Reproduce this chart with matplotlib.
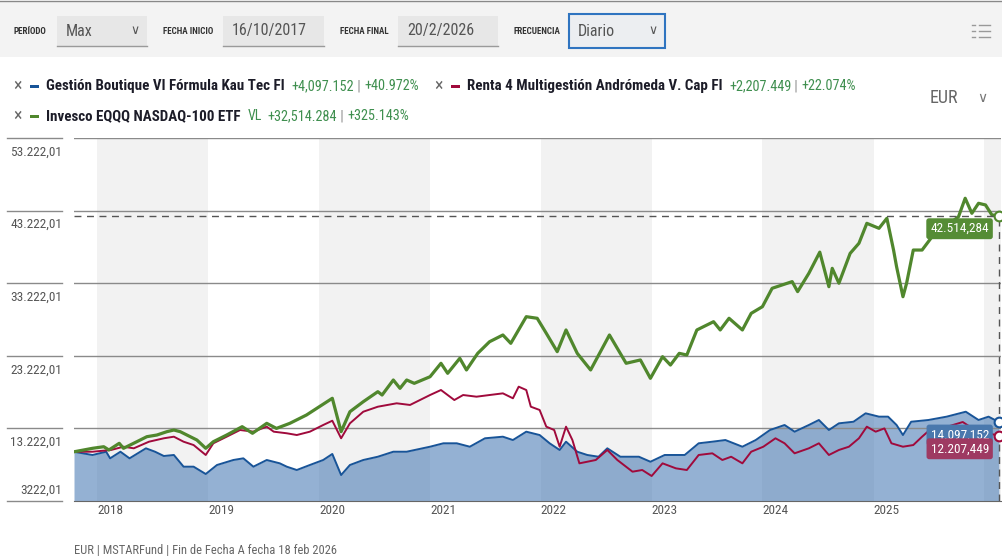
import matplotlib
matplotlib.use('Agg')
import matplotlib.pyplot as plt
from matplotlib.patches import Rectangle
from matplotlib import font_manager
import pandas as pd

# growth of 10.000 EUR
blue_dates = [
    '2017-10-16', '2017-12-16', '2018-01-30', '2018-02-12', '2018-03-18', '2018-04-17',
    '2018-06-10', '2018-07-10', '2018-08-08', '2018-09-10', '2018-10-12', '2018-11-14',
    '2018-12-24', '2019-01-30', '2019-03-25', '2019-04-27', '2019-05-30', '2019-07-13',
    '2019-08-25', '2019-09-17', '2019-10-20', '2019-12-02', '2020-01-15', '2020-02-14',
    '2020-03-14', '2020-04-12', '2020-05-26', '2020-07-13', '2020-09-02', '2020-10-16',
    '2021-01-01', '2021-02-14', '2021-03-30', '2021-05-12', '2021-07-01', '2021-08-29',
    '2021-10-01', '2021-11-14', '2021-12-28', '2022-01-30', '2022-03-04', '2022-03-25',
    '2022-05-01', '2022-06-03', '2022-07-10', '2022-08-08', '2022-09-20', '2022-11-20',
    '2022-12-28', '2023-02-13', '2023-04-20', '2023-06-05', '2023-07-20', '2023-09-01',
    '2023-10-27', '2023-12-10', '2024-01-26', '2024-03-14', '2024-04-16', '2024-06-02',
    '2024-07-05', '2024-08-07', '2024-09-09', '2024-10-27', '2024-12-06', '2025-01-19',
    '2025-02-18', '2025-03-18', '2025-04-08', '2025-05-05', '2025-07-01', '2025-08-30',
    '2025-11-01', '2025-12-13', '2026-01-15', '2026-02-18',
]
blue_values = [
    10000, 9560, 10010, 9100, 10010, 9100,
    10480, 10010, 9420, 9560, 7950, 7950,
    6940, 8180, 8870, 9100, 7950, 8870,
    8410, 7950, 7490, 8180, 8870, 9700,
    6800, 8180, 8870, 9320, 10010, 10010,
    10700, 11170, 11170, 10700, 11860, 12080,
    11620, 12770, 12310, 11170, 10250, 11390,
    10010, 9560, 9320, 10480, 9320, 9320,
    8630, 9560, 9560, 11170, 11390, 11620,
    10700, 11620, 13000, 13690, 12770, 13690,
    14380, 13000, 13920, 14140, 15300, 14840,
    14840, 13690, 12310, 14140, 14380, 14840,
    15520, 14380, 14840, 14097.152,
]

red_dates = [
    '2017-10-16', '2017-12-16', '2018-02-15', '2018-03-28', '2018-05-01', '2018-06-20',
    '2018-08-08', '2018-09-10', '2018-10-12', '2018-11-14', '2018-12-24', '2019-01-18',
    '2019-03-03', '2019-04-16', '2019-05-30', '2019-07-13', '2019-08-05', '2019-09-17',
    '2019-10-20', '2019-12-02', '2020-01-15', '2020-02-14', '2020-03-14', '2020-04-12',
    '2020-05-26', '2020-07-13', '2020-09-13', '2020-10-27', '2021-01-01', '2021-02-06',
    '2021-03-22', '2021-04-20', '2021-06-03', '2021-07-16', '2021-08-29', '2021-10-01',
    '2021-10-20', '2021-11-14', '2021-11-29', '2021-12-28', '2022-01-19', '2022-02-14',
    '2022-03-04', '2022-03-25', '2022-04-15', '2022-05-08', '2022-06-03', '2022-07-01',
    '2022-08-08', '2022-09-10', '2022-10-30', '2022-12-01', '2023-01-01', '2023-02-06',
    '2023-03-22', '2023-04-27', '2023-06-05', '2023-07-20', '2023-08-22', '2023-09-20',
    '2023-10-27', '2023-11-25', '2024-01-04', '2024-02-13', '2024-03-14', '2024-04-16',
    '2024-06-02', '2024-07-05', '2024-08-07', '2024-09-09', '2024-10-12', '2024-11-14',
    '2024-12-10', '2025-01-08', '2025-02-06', '2025-03-01', '2025-04-08', '2025-05-12',
    '2025-06-10', '2025-07-05', '2025-08-20', '2025-10-22', '2025-12-01', '2026-02-18',
]
red_values = [
    10000, 10010, 10250, 10700, 10480, 11390,
    11860, 12080, 11390, 10930, 9560, 11170,
    12080, 13000, 12770, 13460, 12770, 12550,
    12310, 12770, 13690, 14280, 11860, 13920,
    15520, 16210, 16680, 16450, 17820, 18510,
    17130, 17820, 17590, 17820, 18050, 17370,
    18970, 18510, 16210, 15760, 13460, 13000,
    10700, 13460, 11620, 8410, 8630, 8870,
    10250, 8870, 7260, 7490, 6665, 8410,
    7720, 7490, 9560, 9790, 8870, 9320,
    8410, 10010, 10700, 11860, 11170, 9790,
    10480, 11170, 9560, 10250, 10700, 11860,
    13460, 12770, 13222, 11170, 10700, 10930,
    12080, 13000, 13300, 14100, 13000, 12207.449,
]

green_dates = [
    '2017-10-16', '2017-12-16', '2018-01-22', '2018-02-08', '2018-03-14', '2018-03-28',
    '2018-05-11', '2018-06-13', '2018-07-16', '2018-08-18', '2018-09-10', '2018-10-01',
    '2018-11-03', '2018-11-25', '2018-12-24', '2019-01-18', '2019-03-03', '2019-04-23',
    '2019-05-27', '2019-07-13', '2019-08-14', '2019-09-27', '2019-11-21', '2020-01-11',
    '2020-02-14', '2020-03-14', '2020-04-12', '2020-05-26', '2020-07-13', '2020-07-27',
    '2020-09-02', '2020-09-24', '2020-10-16', '2020-11-10', '2021-01-01', '2021-02-06',
    '2021-02-28', '2021-04-09', '2021-05-01', '2021-06-07', '2021-07-16', '2021-08-29',
    '2021-09-24', '2021-11-14', '2021-12-20', '2022-01-19', '2022-02-24', '2022-03-25',
    '2022-05-01', '2022-06-14', '2022-08-15', '2022-10-09', '2022-11-25', '2022-12-28',
    '2023-02-06', '2023-03-04', '2023-04-02', '2023-04-27', '2023-05-30', '2023-07-24',
    '2023-08-15', '2023-09-13', '2023-10-27', '2023-11-25', '2024-01-01', '2024-02-02',
    '2024-04-08', '2024-04-26', '2024-06-02', '2024-07-08', '2024-08-07', '2024-08-18',
    '2024-09-09', '2024-10-16', '2024-11-14', '2024-12-10', '2025-01-19', '2025-02-14',
    '2025-03-08', '2025-03-18', '2025-04-08', '2025-04-20', '2025-05-12', '2025-06-10',
    '2025-07-13', '2025-10-08', '2025-10-30', '2025-11-21', '2025-12-13', '2026-01-05',
    '2026-01-26', '2026-02-18',
]
green_values = [
    10000, 10480, 10700, 10250, 11170, 10480,
    11390, 12080, 12310, 12770, 13000, 12770,
    12080, 11620, 10480, 11390, 12310, 13460,
    12550, 13920, 13222, 13920, 15070, 16450,
    17370, 12770, 15520, 16900, 18280, 17820,
    19890, 18740, 19890, 19430, 20340, 22190,
    20810, 22880, 21270, 23560, 25160, 26090,
    24940, 28610, 28390, 26320, 23790, 26780,
    23560, 21270, 26090, 22190, 22650, 20120,
    23100, 21950, 23560, 23330, 26780, 27920,
    26780, 28390, 26780, 29070, 29990, 32520,
    33440, 32060, 34590, 37500, 32740, 35270,
    33220, 37330, 38720, 41470, 40780, 42160,
    37790, 35490, 31360, 33220, 37790, 37790,
    39630, 42380, 44920, 42850, 44230, 44000,
    42620, 42514.284,
]

series_names = ['Gestión Boutique VI Fórmula Kau Tec FI',
                'Renta 4 Multigestión Andrómeda V. Cap FI',
                'Invesco EQQQ NASDAQ-100 ETF']
y_ticks = [3222.01, 13222.01, 23222.01, 33222.01, 43222.01, 53222.01]
year_ticks = [2018, 2019, 2020, 2021, 2022, 2023, 2024, 2025]
grey_years = [2018, 2020, 2022, 2024, 2026]

BLUE = '#185498'
RED = '#a00a3c'
GREEN = '#50872d'
TXT_GREEN = '#3f8f4f'

names = {f.name for f in font_manager.fontManager.ttflist}
COND = next((n for n in ['Roboto Condensed', 'Liberation Sans Narrow',
                         'Open Sans Condensed', 'DejaVu Sans']
             if n in names), 'DejaVu Sans')
plt.rcParams['font.family'] = [COND, 'DejaVu Sans']
if COND == 'DejaVu Sans':
    plt.rcParams['font.stretch'] = 'condensed'


def eu(v):
    s = f'{v:,.3f}'
    return s.replace(',', 'X').replace('.', ',').replace('X', '.')


def tick_fmt(v):
    s = f'{v:,.2f}' if v >= 10000 else f'{v:.2f}'
    return s.replace(',', 'X').replace('.', ',').replace('X', '.')


W, H = 1002, 556
fig = plt.figure(figsize=(W / 100, H / 100), dpi=100)
bg = fig.add_axes([0, 0, 1, 1])
bg.set_xlim(0, W)
bg.set_ylim(H, 0)
bg.axis('off')

start = pd.Timestamp('2017-10-16')
ax = fig.add_axes([74 / W, 1 - 501 / H, 927 / W, 363 / H])
ax.set_xlim(start, pd.Timestamp('2026-02-25'))
ax.set_ylim(y_ticks[0], y_ticks[-1])
for s in ['top', 'left', 'right']:
    ax.spines[s].set_visible(False)
ax.spines['bottom'].set_color('#666666')
ax.tick_params(length=0, labelbottom=False, labelleft=False)

for yr in grey_years:
    ax.axvspan(pd.Timestamp(f'{yr}-01-01'), pd.Timestamp(f'{yr + 1}-01-01'),
               color='#f2f2f2', lw=0, zorder=0)

for v in y_ticks:
    if v != y_ticks[0]:
        ax.axhline(v, color='#8a8a8a', lw=1, zorder=2)
    ax.plot([-67 / 927, -12 / 927], [v, v], transform=ax.get_yaxis_transform(),
            color='#8a8a8a', lw=1, clip_on=False)
    dy = 11 if v == y_ticks[0] else -14
    ax.annotate(tick_fmt(v), xy=(0, v), xycoords=('axes fraction', 'data'),
                xytext=(-12, dy), textcoords='offset pixels', ha='right', va='center',
                fontsize=9.5, color='#555555')

for yr in year_ticks:
    ax.annotate(str(yr), xy=(pd.Timestamp(f'{yr}-01-01'), 0),
                xycoords=('data', 'axes fraction'), xytext=(0, -10),
                textcoords='offset pixels', ha='left', va='center',
                fontsize=9.5, color='#555555')

bd = pd.to_datetime(blue_dates)
rd = pd.to_datetime(red_dates)
gd = pd.to_datetime(green_dates)
ax.fill_between(bd, blue_values, y_ticks[0], color=(43 / 255, 101 / 255, 169 / 255),
                alpha=0.5, lw=0, zorder=1)
ax.plot(bd, blue_values, color=BLUE, lw=1.4, zorder=3)
ax.plot(rd, red_values, color=RED, lw=1.4, zorder=4)
ax.plot(gd, green_values, color=GREEN, lw=2.3, zorder=5)

# crosshair on the last point
last = gd[-1]
ax.plot([start, last], [green_values[-1]] * 2, ls=(0, (5, 4)),
        color='#555555', lw=1, zorder=6)
ax.plot([last, last], [y_ticks[0], green_values[-1]], ls=(0, (5, 4)),
        color='#555555', lw=1, zorder=6)

for d, vals, col in [(bd, blue_values, BLUE), (rd, red_values, RED), (gd, green_values, GREEN)]:
    ax.plot([d[-1]], [vals[-1]], 'o', ms=7, mfc='white', mec=col, mew=1.5,
            clip_on=False, zorder=7)

for vals, box in [(green_values, '#558c35'), (blue_values, '#4a78ad'), (red_values, '#9e3a62')]:
    ax.annotate(eu(vals[-1]), xy=(last, vals[-1]), xytext=(-10, -13),
                textcoords='offset pixels', ha='right', va='center', color='white',
                fontsize=9.5, zorder=8,
                bbox=dict(boxstyle='round,pad=0.3,rounding_size=0.2', fc=box, ec='none'))

# header bar
bg.add_patch(Rectangle((0, 2), W, 55, fc='#f3f3f3', ec='none'))
bg.plot([0, W], [1, 1], color='#888888', lw=1)
controls = [('PERÍODO', 14, 57, 147, 'Max', True),
            ('FECHA INICIO', 163, 223, 324, '16/10/2017', False),
            ('FECHA FINAL', 340, 398, 498, '20/2/2026', False),
            ('FRECUENCIA', 514, 569, 665, 'Diario', True)]
for lab, lx, x0, x1, val, chev in controls:
    bg.text(lx, 31, lab, fontsize=6.5, fontweight='bold', color='#333333', va='center')
    if val == 'Diario':
        bg.add_patch(Rectangle((x0, 14), x1 - x0, 34, fc='#eceef1', ec='#2f74c0', lw=1.5))
    else:
        bg.add_patch(Rectangle((x0, 16), x1 - x0, 30, fc='#e7e7e7', ec='none'))
        bg.plot([x0, x1], [46, 46], color='#9a9a9a', lw=1)
    bg.text(x0 + 9, 31, val, fontsize=11.5, color='#555555', va='center')
    if chev:
        bg.text(x1 - 17, 31, '∨', fontsize=9, color='#555555', va='center',
                family=['DejaVu Sans'])
for yy in (25, 31, 37):
    bg.plot([972, 975], [yy, yy], color='#999999', lw=1)
    bg.plot([979, 990], [yy, yy], color='#999999', lw=1)

# legend rows
r = fig.canvas.get_renderer()


def put(x, y, s, **kw):
    t = bg.text(x, y, s, va='center', **kw)
    return x + t.get_window_extent(r).width


def legend_item(x, y, name, col, first, last_v, prefix=None):
    bg.text(x, y, '×', fontsize=13, color='#666666', va='center')
    bg.add_patch(Rectangle((x + 17, y - 1.5), 9, 3, fc=col, ec='none'))
    x = put(x + 33, y, name, fontsize=10.8, fontweight='bold', color='#1c1c28') + 7
    if prefix:
        x = put(x, y, prefix, fontsize=10, color=TXT_GREEN) + 6
    gain = last_v - first
    x = put(x, y, f'+{gain:,.3f}', fontsize=10.3, color=TXT_GREEN)
    x = put(x, y, ' | ', fontsize=10.3, color='#888888')
    x = put(x, y, f'+{gain / first * 100:.3f}%', fontsize=10.3, color=TXT_GREEN)
    return x


xe = legend_item(13, 86, series_names[0], BLUE, blue_values[0], blue_values[-1])
legend_item(xe + 15, 86, series_names[1], RED, red_values[0], red_values[-1])
legend_item(13, 116, series_names[2], GREEN, green_values[0], green_values[-1], 'VL')

bg.text(930, 98, 'EUR', fontsize=13, color='#666666', va='center')
bg.text(977, 98, '∨', fontsize=10, color='#777777', va='center', family=['DejaVu Sans'])

bg.text(74, 550, 'EUR | MSTARFund | Fin de Fecha A fecha 18 feb 2026',
        fontsize=9, color='#666666', va='center')

fig.savefig('out.png', dpi=100)
